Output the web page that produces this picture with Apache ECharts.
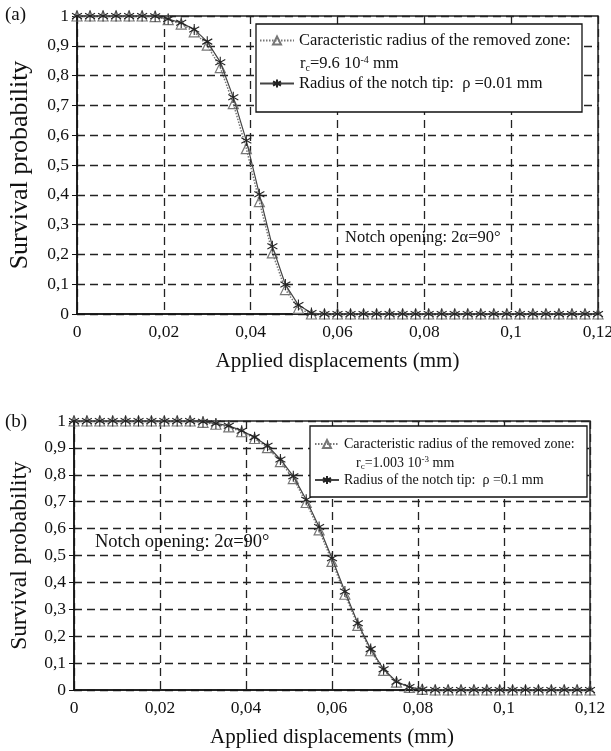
<!DOCTYPE html>
<html><head><meta charset="utf-8">
<script src="https://cdn.jsdelivr.net/npm/echarts@6/dist/echarts.min.js"></script>
<style>html,body{margin:0;padding:0;background:#fff}#c{width:611px;height:751px}</style>
</head><body><div id="c"></div>
<script>
// ---- data ----
const xValues = [0,0.003,0.006,0.009,0.012,0.015,0.018,0.021,0.024,0.027,0.03,0.033,0.036,0.039,0.042,0.045,0.048,0.051,0.054,0.057,0.06,0.063,0.066,0.069,0.072,0.075,0.078,0.081,0.084,0.087,0.09,0.093,0.096,0.099,0.102,0.105,0.108,0.111,0.114,0.117,0.12];
const topRemoved = [1,1,1,1,1,1,0.998,0.988,0.973,0.947,0.902,0.827,0.706,0.555,0.377,0.205,0.082,0.019,0,0,0,0,0,0,0,0,0,0,0,0,0,0,0,0,0,0,0,0,0,0,0];
const topNotch   = [1,1,1,1,1,1,0.999,0.99,0.977,0.955,0.914,0.845,0.727,0.582,0.402,0.227,0.099,0.03,0.003,0,0,0,0,0,0,0,0,0,0,0,0,0,0,0,0,0,0,0,0,0,0];
const botRemoved = [1,1,1,1,1,1,1,1,1,1,0.995,0.988,0.978,0.96,0.935,0.901,0.849,0.786,0.697,0.595,0.478,0.356,0.24,0.146,0.073,0.029,0.01,0.002,0,0,0,0,0,0,0,0,0,0,0,0,0];
const botNotch   = [1,1,1,1,1,1,1,1,1,1,0.997,0.991,0.982,0.964,0.94,0.908,0.857,0.795,0.707,0.606,0.49,0.366,0.248,0.152,0.077,0.031,0.011,0.002,0,0,0,0,0,0,0,0,0,0,0,0,0];
const xTickLabels = ['0','0,02','0,04','0,06','0,08','0,1','0,12'];
const yTickLabels = ['0','0,1','0,2','0,3','0,4','0,5','0,6','0,7','0,8','0,9','1'];
const legendTextA = {removed:'Caracteristic radius of the removed zone:', notch:'Radius of the notch tip:  \u03c1 =0.01 mm'};
const legendTextB = {removed:'Caracteristic radius of the removed zone:', notch:'Radius of the notch tip:  \u03c1 =0.1 mm'};
const xTitle = 'Applied displacements (mm)';
const yTitle = 'Survival probability';
const notchLabel = 'Notch opening: 2\u03b1=90\u00b0';

// ---- chart ----
const FONT = "'Liberation Serif','Times New Roman',serif";
const STAR = 'path://M10,0L10,20M1.34,5L18.66,15M1.34,15L18.66,5';
const pairs = arr => xValues.map((x,i)=>[x,arr[i]]);

function xAxis(gi){
  return {type:'value', gridIndex:gi, min:0, max:0.12, interval:0.02,
    name:xTitle, nameLocation:'middle', nameGap:37,
    nameTextStyle:{fontFamily:FONT,fontSize:21,color:'#111'},
    axisLine:{show:true,lineStyle:{color:'#111',width:1.5}},
    axisTick:{show:false},
    axisLabel:{margin:9,fontFamily:FONT,fontSize:17.5,color:'#111',
      formatter:(v,i)=>xTickLabels[Math.round(v/0.02)]},
    splitLine:{show:true,lineStyle:{color:'#222',width:1.3,type:[8,5]}}};
}
function yAxis(gi,gap,fs){
  return {type:'value', gridIndex:gi, min:0, max:1, interval:0.1,
    name:yTitle, nameLocation:'middle', nameGap:gap, nameRotate:90,
    nameTextStyle:{fontFamily:FONT,fontSize:fs,color:'#111'},
    axisLine:{show:true,lineStyle:{color:'#111',width:1.5}},
    axisTick:{show:true,inside:false,length:5,lineStyle:{color:'#111',width:1}},
    axisLabel:{margin:8,fontFamily:FONT,fontSize:17.5,color:'#111',
      formatter:(v)=>yTickLabels[Math.round(v*10)]},
    splitLine:{show:true,lineStyle:{color:'#222',width:1.3,type:[8,5]}}};
}
function removedSeries(name,gi,data){
  return {name, type:'line', xAxisIndex:gi, yAxisIndex:gi, data:pairs(data),
    symbol:'triangle', symbolSize:10, showSymbol:true, z:3,
    lineStyle:{color:'#777',width:1.5,type:[1.5,1.5]},
    itemStyle:{color:'rgba(255,255,255,0)',borderColor:'#777',borderWidth:1.2}};
}
function notchSeries(name,gi,data){
  return {name, type:'line', xAxisIndex:gi, yAxisIndex:gi, data:pairs(data),
    symbol:STAR, symbolSize:[10,11], showSymbol:true, z:4,
    lineStyle:{color:'#444',width:1.2},
    itemStyle:{color:'none',borderColor:'#222',borderWidth:1.1}};
}

const names = {aR:legendTextA.removed, aN:legendTextA.notch, bR:legendTextB.removed, bN:legendTextB.notch};

const option = {
  backgroundColor:'#fff',
  animation:false,
  grid:[
    {left:77, top:16, width:521, height:298, show:true, borderColor:'#222', borderWidth:1.5, backgroundColor:'transparent', containLabel:false, outerBoundsMode:'none'},
    {left:74, top:421, width:516, height:269, show:true, borderColor:'#222', borderWidth:1.5, backgroundColor:'transparent', containLabel:false, outerBoundsMode:'none'}
  ],
  xAxis:[xAxis(0), xAxis(1)],
  yAxis:[yAxis(0,44,26), yAxis(1,42,23.5)],
  legend:[
    {data:['aR','aN'], orient:'vertical', left:259, top:32, itemWidth:34, itemHeight:10, itemGap:26, padding:0,
     formatter:n=>names[n], textStyle:{fontFamily:FONT,fontSize:16.5,color:'#111'}, selectedMode:false},
    {data:['bR','bN'], orient:'vertical', left:314, top:437, itemWidth:24, itemHeight:10, itemGap:22, padding:0,
     formatter:n=>names[n], textStyle:{fontFamily:FONT,fontSize:14,color:'#111'}, selectedMode:false}
  ],
  graphic:[
    {type:'rect', shape:{x:256,y:24,width:326,height:88}, style:{fill:'#fff',stroke:'#111',lineWidth:1.3}, z:5},
    {type:'rect', shape:{x:310,y:426,width:277,height:71}, style:{fill:'#fff',stroke:'#111',lineWidth:1.3}, z:5},
    {type:'text', left:300, top:55, z:6, style:{text:'r{s|c}=9.6 10{p|-4} mm', font:'16.5px '+FONT, fill:'#111',
      rich:{s:{fontSize:10,fontFamily:FONT,padding:[8,0,0,0]}, p:{fontSize:10,fontFamily:FONT,padding:[0,0,8,0]}}}},
    {type:'text', left:356, top:455, z:6, style:{text:'r{s|c}=1.003 10{p|-3} mm', font:'14px '+FONT, fill:'#111',
      rich:{s:{fontSize:9,fontFamily:FONT,padding:[7,0,0,0]}, p:{fontSize:9,fontFamily:FONT,padding:[0,0,7,0]}}}},
    {type:'text', left:345, top:229, z:6, style:{text:notchLabel, font:'16.5px '+FONT, fill:'#111'}},
    {type:'text', left:95, top:533, z:6, style:{text:notchLabel, font:'18.5px '+FONT, fill:'#111'}},
    {type:'text', left:5, top:6, style:{text:'(a)', font:'19px '+FONT, fill:'#111'}},
    {type:'text', left:5, top:413, style:{text:'(b)', font:'19px '+FONT, fill:'#111'}}
  ],
  series:[
    removedSeries('aR',0,topRemoved),
    notchSeries('aN',0,topNotch),
    removedSeries('bR',1,botRemoved),
    notchSeries('bN',1,botNotch)
  ]
};
option.legend.forEach(l=>{l.z=10;});
const chart = echarts.init(document.getElementById('c'), null, {renderer:'canvas'});
chart.setOption(option);
</script>
</body></html>
